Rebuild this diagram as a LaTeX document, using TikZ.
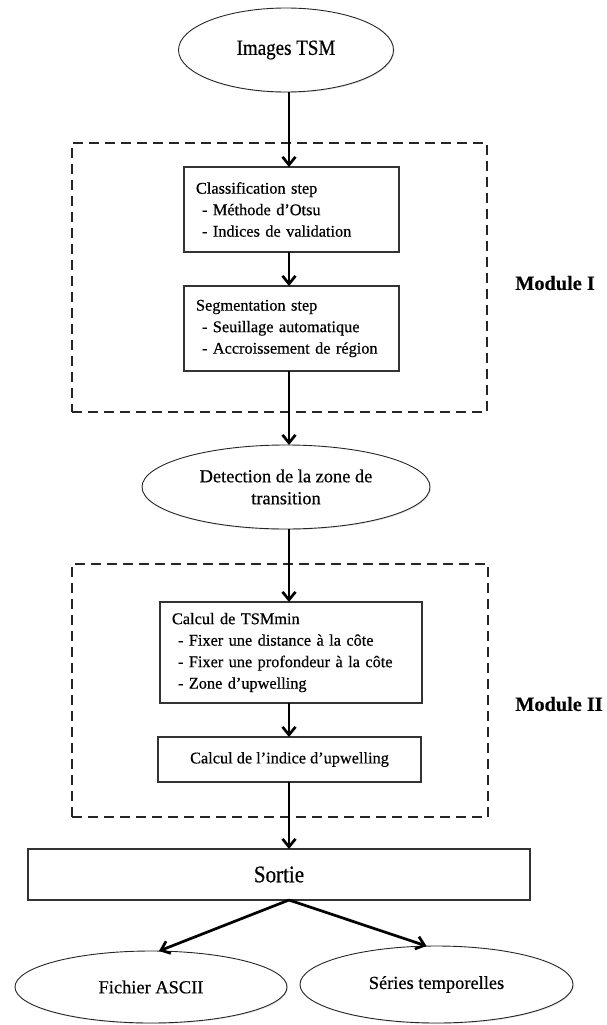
\documentclass[tikz,border=0pt]{standalone}
\usepackage{fontspec}
\setmainfont{Liberation Serif}[FakeBold=0.5, BoldFeatures={FakeBold=0.3}]
\newfontfamily\narrowfont{Liberation Serif}[FakeStretch=0.88, FakeBold=0.5]
\usetikzlibrary{arrows.meta,shapes.geometric,shadows}
\begin{document}
\begin{tikzpicture}[x=1pt,y=-1pt,
  every node/.style={inner sep=0pt, outer sep=0pt},
  oval/.style={ellipse, draw=black!85, line width=0.9pt, fill=white,
    drop shadow={shadow xshift=1pt, shadow yshift=-1pt, opacity=0.2}},
  stepbox/.style={rectangle, draw=black!80, line width=1.4pt, fill=white,
    drop shadow={shadow xshift=1.2pt, shadow yshift=-1.2pt, opacity=0.25}},
  modbox/.style={rectangle, draw=black!85, line width=2.6pt, dash pattern=on 10pt off 6pt},
  arr/.style={line width=2.7pt, -{Straight Barb[length=8pt,width=13pt]}},
  boxtxt/.style={font=\fontsize{16.3}{21.5}\selectfont},
  ovaltxt/.style={font=\fontsize{18.4}{22}\selectfont},
  modtxt/.style={font=\fontsize{20.3}{24}\selectfont\bfseries},
]
\useasboundingbox (0,0) rectangle (606,1025);
\coordinate (ax) at (289,0);

% module frames
\node (m1) [modbox, minimum width=415pt, minimum height=269pt] at (279.5,277.5) {};
\node (m2) [modbox, minimum width=416pt, minimum height=253pt] at (280,690.5) {};
\node (l1) [modtxt] at (555,283) {Module I};
\node (l2) [modtxt] at (559,704) {Module II};

% nodes
\node (e1) [oval, font=\narrowfont\fontsize{21.6}{24}\selectfont, minimum width=215pt, minimum height=84pt] at (286,50) {Images TSM};

\node (b1) [stepbox, boxtxt, minimum height=85pt, text width=191pt, inner xsep=12pt, align=left]
  at (291.5,209.5) {Classification step\\\hspace*{6pt}- Méthode d’Otsu\\\hspace*{6pt}- Indices de validation};

\node (b2) [stepbox, boxtxt, minimum height=85pt, text width=191pt, inner xsep=12pt, align=left]
  at (291.5,328.5) {Segmentation step\\\hspace*{6pt}- Seuillage automatique\\\hspace*{6pt}- Accroissement de région};

\node (e2) [oval, ovaltxt, align=center, minimum width=288pt, minimum height=84pt] at (286,487)
  {Detection de la zone de\\transition};

\node (b3) [stepbox, boxtxt, minimum height=101pt, text width=238pt, inner xsep=12pt, align=left]
  at (291,652.5) {Calcul de TSMmin\\\hspace*{6pt}- Fixer une distance à la côte\\\hspace*{6pt}- Fixer une profondeur à la côte\\\hspace*{6pt}- Zone d’upwelling};

\node (b4) [stepbox, boxtxt, minimum width=263pt, minimum height=45pt] at (289.5,759.5)
  {Calcul de l’indice d’upwelling};

\node (s) [stepbox, font=\narrowfont\fontsize{23.9}{26}\selectfont, minimum width=502pt, minimum height=51pt] at (279,874.5) {Sortie};

\node (e3) [oval, ovaltxt, minimum width=272pt, minimum height=72pt] at (151,987) {Fichier ASCII};
\node (e4) [oval, ovaltxt, minimum width=273pt, minimum height=77pt] at (436.5,984.5) {Séries temporelles};

% connectors
\draw[arr] (e1.south -| ax) -- (b1.north -| ax);
\draw[arr] (b1.south -| ax) -- (b2.north -| ax);
\draw[arr] (b2.south -| ax) -- (e2.north -| ax);
\draw[arr] (e2.south -| ax) -- (b3.north -| ax);
\draw[arr] (b3.south -| ax) -- (b4.north -| ax);
\draw[arr] (b4.south -| ax) -- (s.north -| ax);
\draw[arr] (s.south -| ax) -- ([xshift=8pt]e3.north);
\draw[arr] (s.south -| ax) -- ([xshift=-10pt]e4.north);
\end{tikzpicture}
\end{document}
